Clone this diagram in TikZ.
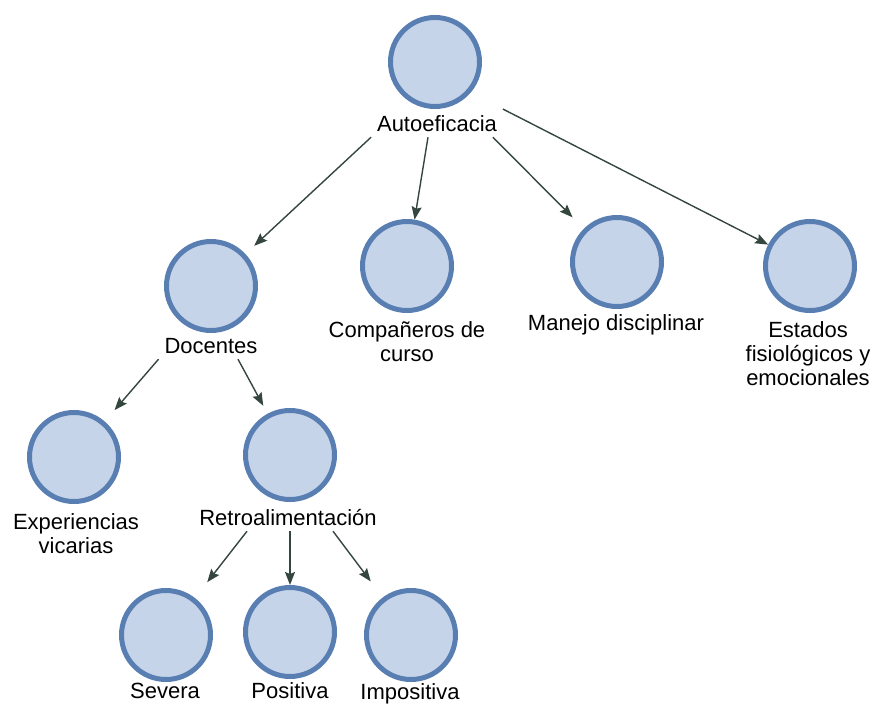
\documentclass[tikz,border=0pt]{standalone}
\usepackage{fontspec}
\setmainfont{Liberation Sans}
\usetikzlibrary{arrows.meta}
\definecolor{ringblue}{RGB}{88,126,178}
\definecolor{fillblue}{RGB}{198,212,234}
\definecolor{arrowgray}{RGB}{52,70,62}
\tikzset{
  circ/.style={circle,draw=ringblue,fill=fillblue,line width=5pt,minimum size=89pt,inner sep=0pt},
  lbl/.style={font=\fontsize{22}{24}\selectfont,align=center,inner sep=0pt,outer sep=6pt},
  arr/.style={draw=arrowgray,line width=1.4pt,-{Stealth[length=13pt,width=10pt,inset=2pt]}}
}
\begin{document}
\begin{tikzpicture}[x=1pt,y=-1pt]
\useasboundingbox (0,0) rectangle (874,704);
\node[circ] (auto) at (435,62) {};
\node[lbl,anchor=base] (auto-l) at (437,131) {Autoeficacia};
\node[circ] (doc) at (211,286) {};
\node[lbl,anchor=base] (doc-l) at (211,353) {Docentes};
\node[circ] (comp) at (407,266) {};
\node[lbl] (comp-l) at (407,342) {Compañeros de\\curso};
\node[circ] (man) at (617,262) {};
\node[lbl,anchor=base] (man-l) at (616,330) {Manejo disciplinar};
\node[circ] (est) at (810,266) {};
\node[lbl] (est-l) at (808,354) {Estados\\fisiológicos y\\emocionales};
\node[circ] (exp) at (74,457) {};
\node[lbl] (exp-l) at (76,534) {Experiencias\\vicarias};
\node[circ] (ret) at (290,455) {};
\node[lbl,anchor=base] (ret-l) at (288,525) {Retroalimentación};
\node[circ] (sev) at (166,635) {};
\node[lbl,anchor=base] (sev-l) at (165,698) {Severa};
\node[circ] (pos) at (290,632) {};
\node[lbl,anchor=base] (pos-l) at (290,698) {Positiva};
\node[circ] (imp) at (411,635) {};
\node[lbl,anchor=base] (imp-l) at (410,699) {Impositiva};

\draw[arr,shorten >=12pt] (auto-l.south west) -- (doc);
\draw[arr] ([xshift=-9pt]auto-l.south) -- (comp);
\draw[arr,shorten >=16pt] ([xshift=-10pt]auto-l.south east) -- (man);
\draw[arr] (auto-l.north east) -- (est);
\draw[arr,shorten >=15pt] (doc-l.south west) -- (exp);
\draw[arr,shorten >=9pt] ([xshift=27pt]doc-l.south) -- (ret);
\draw[arr,shorten >=20pt] ([xshift=-41pt]ret-l.south) -- (sev);
\draw[arr] ([xshift=2pt]ret-l.south) -- (pos);
\draw[arr,shorten >=20pt] ([xshift=45pt]ret-l.south) -- (imp);
\end{tikzpicture}
\end{document}
